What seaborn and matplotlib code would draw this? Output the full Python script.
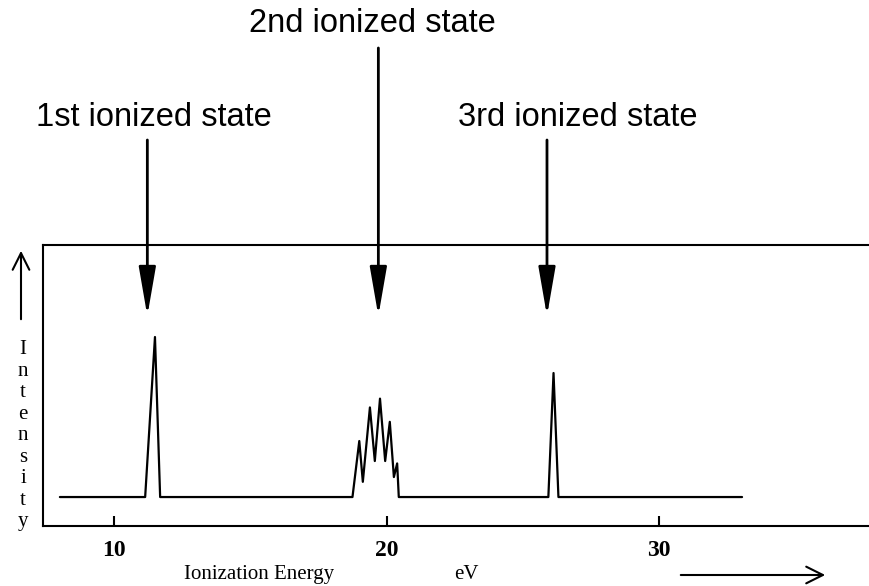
import matplotlib
matplotlib.use("Agg")
import matplotlib.pyplot as plt
import seaborn as sns
import pandas as pd

# ---- data ----
energy = [8.0, 11.13, 11.49, 11.68, 18.74, 18.99, 19.12, 19.38, 19.56, 19.75,
          19.94, 20.11, 20.26, 20.38, 20.44, 25.93, 26.12, 26.30, 33.04]
intensity = [0, 0, 100, 0, 0, 35, 9.5, 56, 22.5, 61.5,
             22.5, 47, 12.5, 21, 0, 0, 77.5, 0, 0]
state_labels = ["1st ionized state", "2nd ionized state", "3rd ionized state"]
state_energy = [11.21, 19.69, 25.88]
xticks = [10, 20, 30]

sns.set_theme(style="white")
plt.rcParams['font.family'] = ['Liberation Sans', 'DejaVu Sans']

W, H = 869, 586
fig = plt.figure(figsize=(W / 100, H / 100), dpi=100)
ax = fig.add_axes([43 / W, 1 - 526 / H, 1 - 43 / W, (526 - 245) / H])

df = pd.DataFrame({"energy": energy, "intensity": intensity})
sns.lineplot(data=df, x="energy", y="intensity", ax=ax, color="black",
             linewidth=1.6, sort=False, estimator=None)

ax.set_xlim(7.38, 37.7)
ax.set_ylim(-18.1, 157.5)
ax.set_xlabel("")
ax.set_ylabel("")
ax.set_yticks([])
ax.set_xticks(xticks)
ax.set_xticklabels([str(t) for t in xticks], family="Liberation Serif",
                   fontweight="bold", fontsize=17)
ax.tick_params(axis="x", direction="in", length=7, width=1.5, pad=10,
               colors="black", bottom=True)
for s in ["left", "bottom", "top"]:
    ax.spines[s].set_color("black")
    ax.spines[s].set_linewidth(1.5)
ax.spines["right"].set_visible(False)

def px(x, y):
    return x / W, 1 - y / H

# state labels and arrows
text_pos = [(154, 118), (372, 23), (578, 118)]
arrow_start = [140, 48, 140]
for lab, e, (tx, ty), ys in zip(state_labels, state_energy, text_pos, arrow_start):
    fig.text(*px(tx, ty), lab, ha="center", va="center", fontsize=23.5,
             family="Liberation Sans", color="black")
    y_tip = (497 - 316) / 1.6
    y_start = (497 - ys) / 1.6
    ax.annotate("", xy=(e, y_tip), xytext=(e, y_start),
                xycoords="data", textcoords="data", annotation_clip=False,
                arrowprops=dict(arrowstyle="-|>,head_length=1.5,head_width=0.26",
                                color="black", lw=2, mutation_scale=20,
                                shrinkA=0, shrinkB=0))

# bottom labels
fig.text(*px(259, 584), "Ionization Energy", ha="center", va="bottom",
         fontsize=15, family="Liberation Serif", color="black")
fig.text(*px(466, 584), "eV", ha="center", va="bottom",
         fontsize=15, family="Liberation Serif", color="black")
fig.add_artist(matplotlib.patches.FancyArrowPatch(
    px(678, 575), px(828, 575), transform=fig.transFigure,
    arrowstyle="->,head_length=0.8,head_width=0.4", mutation_scale=15,
    color="black", lw=1.5))

# vertical intensity label
fig.text(*px(23, 340), "\n".join("Intensity"), ha="center", va="top",
         fontsize=15, family="Liberation Serif", color="black",
         linespacing=1.18)
fig.add_artist(matplotlib.patches.FancyArrowPatch(
    px(21, 322), px(21, 248), transform=fig.transFigure,
    arrowstyle="->,head_length=0.8,head_width=0.4", mutation_scale=15,
    color="black", lw=1.5))

fig.savefig("out.png", dpi=100)
